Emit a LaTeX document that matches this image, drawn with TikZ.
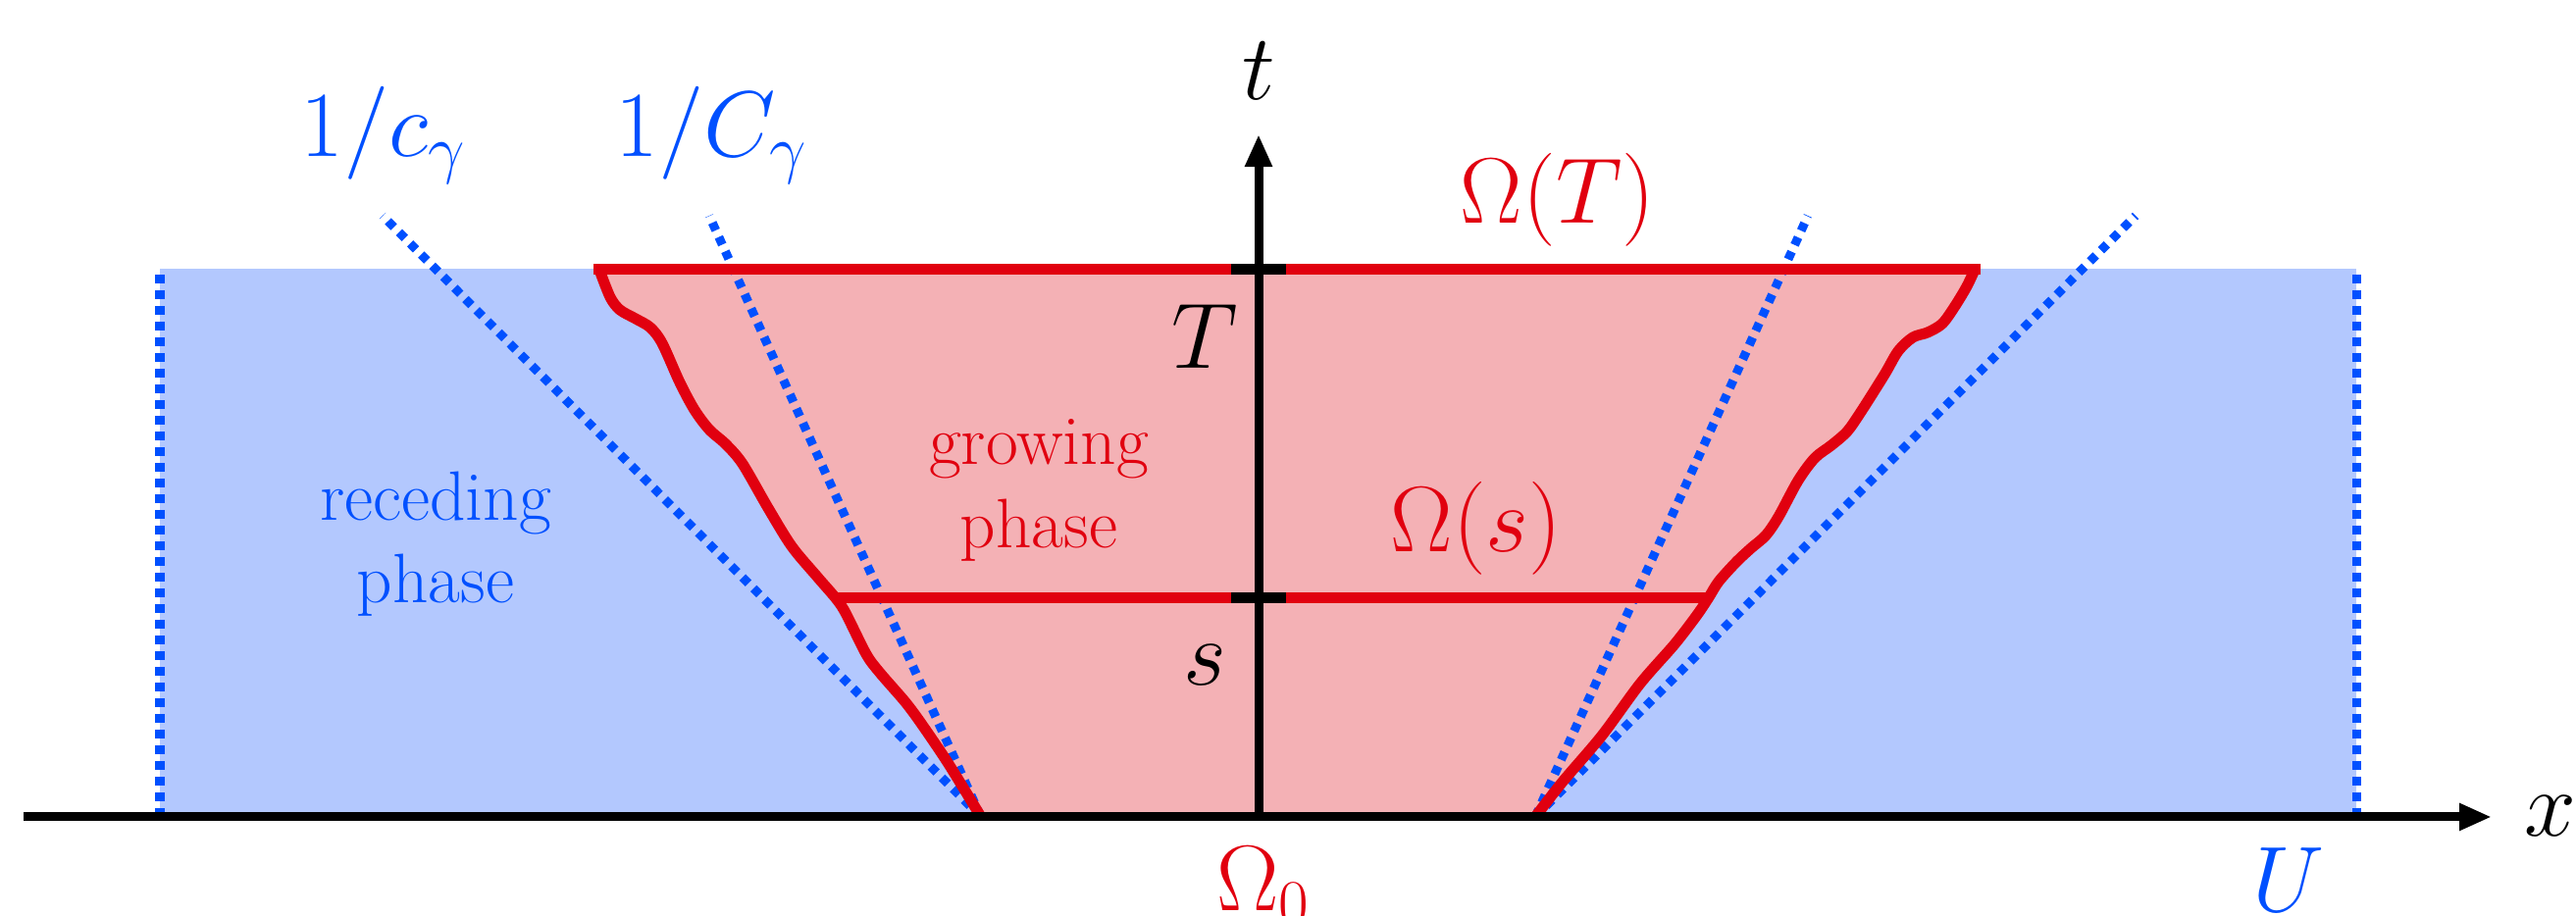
\RequirePackage{fix-cm}
\documentclass[tikz,border=0pt]{standalone}
\usetikzlibrary{arrows.meta}
\definecolor{bfill}{HTML}{B3C8FE}
\definecolor{bline}{HTML}{0050FF}
\definecolor{rline}{HTML}{E1000F}
\definecolor{rfill}{HTML}{F4B1B5}
\begin{document}
\begin{tikzpicture}[x=0.01cm,y=-0.01cm,
  mlab/.style={font=\fontsize{27}{32}\selectfont, inner sep=0pt, anchor=base},
  tlab/.style={font=\fontsize{20.3}{24}\selectfont, inner sep=0pt, anchor=base},
  dotline/.style={bline, line width=0.09cm, dash pattern=on 0.085cm off 0.075cm},
  redline/.style={rline, line width=0.11cm, line join=round},
  axis/.style={black, line width=0.09cm, -{Triangle[length=0.33cm,width=0.26cm]}},
  tick/.style={black, line width=0.11cm}]
\useasboundingbox (0,0) rectangle (2626,934);

% coordinates
\coordinate (xs) at (24,833);
\coordinate (xe) at (2540,833);
\coordinate (ts) at (1283,833);
\coordinate (te) at (1283,137);
\coordinate (BL) at (1000,833);
\coordinate (BR) at (1565,833);

% blue region
\fill[bfill] (163,274) rectangle (2402,833);

% pink region
\fill[rfill] plot[smooth, tension=0.5] coordinates {(1000,833) (967,779) (940,739) (923,716) (897,686) (883,667) (862,625) (852,610) (833,588) (807,557) (783,518) (757,473) (740,453) (723,438) (708,418) (693,390) (675,350) (663,334) (648,325) (632,316) (622,303) (611,275)}
  -- plot[smooth, tension=0.5] coordinates {(2013,275) (2005,292) (1993,312) (1980,330) (1965,339) (1950,344) (1935,358) (1921,382) (1897,420) (1883,440) (1867,454) (1850,467) (1833,490) (1813,527) (1800,546) (1785,559) (1770,573) (1752,593) (1742,609) (1730,627) (1707,657) (1672,697) (1633,750) (1593,797) (1565,833)} -- cycle;

% dotted lines
\draw[dotline] (163,833) -- (163,278);
\draw[dotline] (2402,833) -- (2402,278);
\coordinate (L1) at (390,220);
\coordinate (L2) at (723,220);
\coordinate (R1) at (1843,220);
\coordinate (R2) at (2177,220);
\draw[dotline] (BL) -- (L1);
\draw[dotline] (BL) -- (L2);
\draw[dotline] (BR) -- (R1);
\draw[dotline] (BR) -- (R2);

% red boundaries
\draw[redline] plot[smooth, tension=0.5] coordinates {(1000,833) (967,779) (940,739) (923,716) (897,686) (883,667) (862,625) (852,610) (833,588) (807,557) (783,518) (757,473) (740,453) (723,438) (708,418) (693,390) (675,350) (663,334) (648,325) (632,316) (622,303) (611,275)};
\draw[redline] plot[smooth, tension=0.5] coordinates {(2013,275) (2005,292) (1993,312) (1980,330) (1965,339) (1950,344) (1935,358) (1921,382) (1897,420) (1883,440) (1867,454) (1850,467) (1833,490) (1813,527) (1800,546) (1785,559) (1770,573) (1752,593) (1742,609) (1730,627) (1707,657) (1672,697) (1633,750) (1593,797) (1565,833)};
\draw[rline, line width=0.11cm] (605,275) -- (2019,275);
\draw[rline, line width=0.11cm] (852,610) -- (1742,610);

% axes
\draw[axis] (xs) -- (xe);
\draw[axis] (ts) -- (te);
\draw[tick] (1255,275) -- (1311,275);
\draw[tick] (1255,610) -- (1311,610);

% labels
\node[mlab] (tl) at (1283,102) {$t$};
\node[mlab] (xl) at (2600,853) {$x$};
\node[mlab] (Tl) at (1228,376) {$T$};
\node[mlab] (sl) at (1228,699) {$s$};
\node[mlab, text=bline] (Ul) at (2333,930) {$U$};
\node[mlab, text=rline] (O0) at (1288,929) {$\Omega_0$};
\node[mlab, text=rline] (OT) at (1588,228) {$\Omega(T)$};
\node[mlab, text=rline] (Os) at (1505,563) {$\Omega(s)$};
\node[mlab, text=bline, anchor=base west] (c1) at (306,160) {$1/c_\gamma$};
\node[mlab, text=bline, anchor=base west] (c2) at (627,160) {$1/C_\gamma$};
\node[tlab, text=bline] (rc1) at (444,531) {receding};
\node[tlab, text=bline] (rc2) at (444,615) {phase};
\node[tlab, text=rline] (gr1) at (1059,474) {growing};
\node[tlab, text=rline] (gr2) at (1059,559) {phase};
\end{tikzpicture}
\end{document}
